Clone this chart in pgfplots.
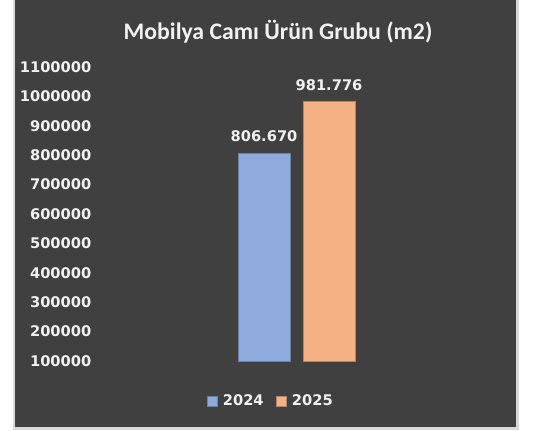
\documentclass[border=0pt]{standalone}
\usepackage{pgfplots}
\pgfplotsset{compat=1.18}
\usepackage{fontspec}
\setmainfont{Carlito}
\newfontfamily\vfont{DejaVu Sans}
\definecolor{bg}{HTML}{404040}
\definecolor{frame}{HTML}{D9D9D9}
\definecolor{bar24}{HTML}{8FAADC}
\definecolor{bar25}{HTML}{F4B183}
\definecolor{txt}{HTML}{F2F2F2}
\begin{document}
\begin{tikzpicture}
% background and frame, in pixels of the reference (1px = 0.75pt)
\begin{scope}[x=0.75pt,y=0.75pt]
\fill[white] (0,0) rectangle (536,431);
\fill[frame] (13,1) rectangle (519,431);
\fill[bg] (15,4) rectangle (516,431);
\node[text=txt,font=\fontsize{17.8}{21}\selectfont\bfseries] at (278,399) {Mobilya Camı Ürün Grubu (m2)};
\end{scope}
\begin{axis}[
    at={(75pt,52.5pt)}, anchor=south west,
    scale only axis,
    width=300pt, height=220.5pt,
    xmin=100, xmax=500,
    ymin=100000, ymax=1100000,
    ytick distance=100000,
    xtick=\empty,
    axis line style={draw=none},
    tick style={draw=none},
    clip=false,
    ybar, bar shift=0pt, bar width=52,
    /pgf/number format/assume math mode=true,
    yticklabel style={text=txt, font=\vfont\fontsize{11}{13}\selectfont\bfseries,
        /pgf/number format/fixed, /pgf/number format/set thousands separator={},
        xshift=-3pt},
    scaled y ticks=false,
    nodes near coords,
    every node near coord/.append style={text=txt, font=\vfont\fontsize{11}{13}\selectfont\bfseries,
        /pgf/number format/fixed, /pgf/number format/set thousands separator={.},
        yshift=5pt},
    legend style={at={(0.4275,-0.136)}, anchor=center, draw=none, fill=none,
        text=txt, font=\vfont\fontsize{11}{13}\selectfont\bfseries, legend columns=2,
        /tikz/every even column/.append style={column sep=7pt}},
    legend image code/.code={\fill[#1] (0pt,-3.75pt) rectangle (7.5pt,3.75pt);
        \path[draw=none,fill=none] (0pt,0pt) -- (10pt,0pt);},
]
\addplot[fill=bar24, draw=bar24!75!black, line width=0.4pt] coordinates {(264,806670)};
\addplot[fill=bar25, draw=bar25!75!black, line width=0.4pt] coordinates {(329,981776)};
\legend{2024, 2025}
\end{axis}
\end{tikzpicture}
\end{document}
